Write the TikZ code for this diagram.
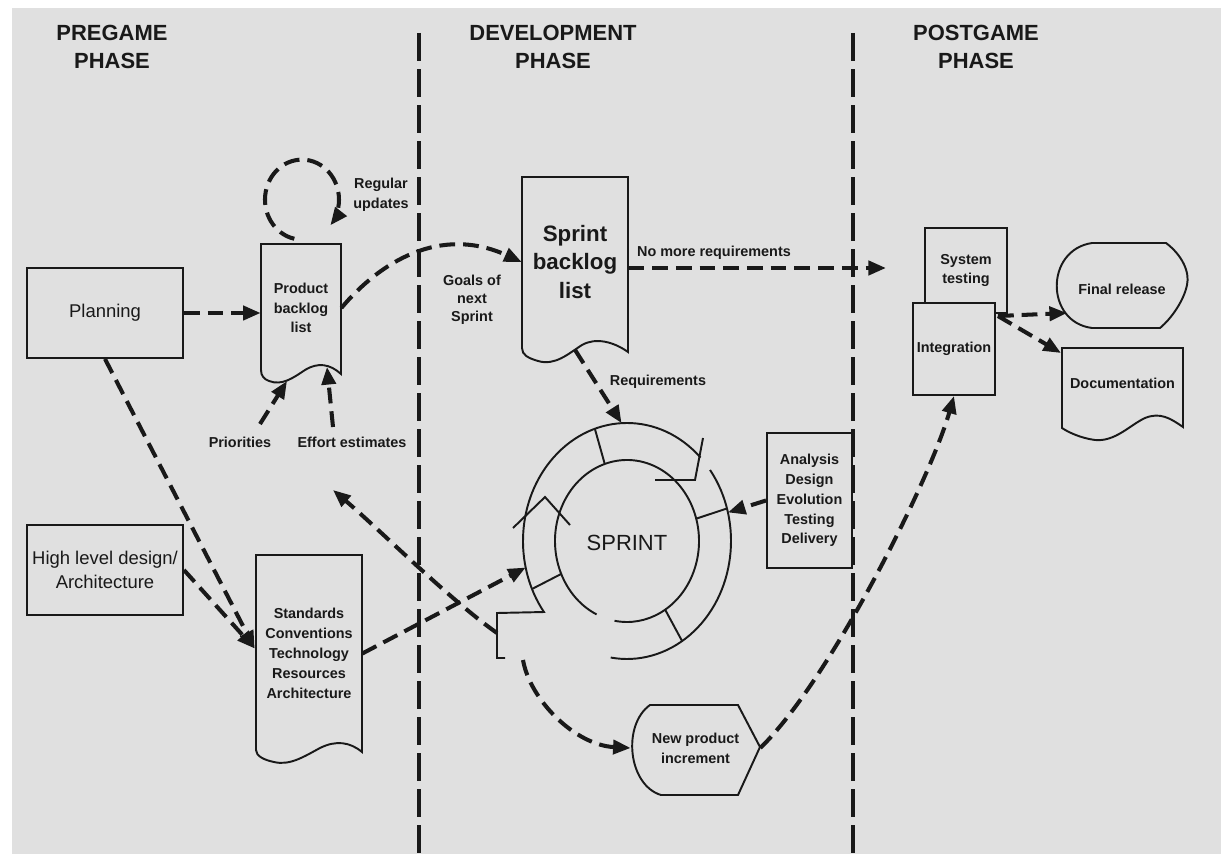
\documentclass[tikz,border=0pt]{standalone}
\usepackage{fontspec}
\setmainfont{Liberation Sans}
\usetikzlibrary{arrows.meta,calc}
\definecolor{bg}{RGB}{224,224,224}
\definecolor{ink}{RGB}{25,25,25}
\tikzset{
  box/.style={draw=ink, line width=1.1pt, fill=bg, inner sep=0pt, text=ink},
  outline/.style={draw=ink, line width=1.1pt, fill=bg},
  conn/.style={draw=ink, line width=2.3pt, dash pattern=on 9pt off 4.5pt, -{Triangle[length=10pt,width=8pt]}},
  phaseline/.style={draw=ink, line width=2pt, dash pattern=on 16pt off 4.5pt},
  ring/.style={draw=ink, line width=1.1pt},
  head/.style={font=\bfseries\fontsize{12.5}{16.4}\selectfont, align=center, text=ink},
  lbl/.style={font=\bfseries\fontsize{8.2}{11.3}\selectfont, align=center, inner sep=1pt, text=ink},
  midtext/.style={font=\fontsize{10.5}{14}\selectfont, align=center, text=ink},
  doc/.style={inner sep=0pt, align=center},
}
\begin{document}
\begin{tikzpicture}[x=0.02cm,y=-0.02cm]
\useasboundingbox (0,0) rectangle (1221,854);
\fill[white] (0,0) rectangle (1221,854);
\fill[bg] (12,8) rectangle (1221,854);

% phase headings
\node[head] (h1) at (112,47) {PREGAME\\PHASE};
\node[head] (h2) at (553,47) {DEVELOPMENT\\PHASE};
\node[head] (h3) at (976,47) {POSTGAME\\PHASE};

% phase separators
\coordinate (p1t) at (419,33); \coordinate (p1b) at (419,854);
\coordinate (p2t) at (853,33); \coordinate (p2b) at (853,854);
\draw[phaseline] (p1t) -- (p1b);
\draw[phaseline] (p2t) -- (p2b);

% pregame boxes
\node[box, midtext, minimum width=3.12cm, minimum height=1.8cm] (plan) at (105,313) {Planning};
\node[box, midtext, minimum width=3.12cm, minimum height=1.8cm] (hld) at (105,570) {High level design/\\Architecture};

% product backlog document
\draw[outline] (261,244) -- (341,244) -- (341,374) .. controls (330,364) and (318,362) .. (305,370)
  .. controls (293,378) and (282,386) .. (269,381) .. controls (264,379) and (261,376) .. (261,370) -- cycle;
\node[doc, lbl, minimum width=1.6cm, minimum height=2.56cm] (pb) at (301,308) {Product\\backlog\\list};

% standards document
\draw[outline] (256,555) -- (362,555) -- (362,752) .. controls (350,742) and (336,740) .. (320,748)
  .. controls (305,756) and (290,766) .. (274,762) .. controls (264,760) and (256,756) .. (256,750) -- cycle;
\node[doc, lbl, minimum width=2.12cm, minimum height=3.94cm] (st) at (309,653.5) {Standards\\Conventions\\Technology\\Resources\\Architecture};

% sprint backlog document
\draw[outline] (522,177) -- (628,177) -- (628,352) .. controls (614,342) and (596,337) .. (582,345)
  .. controls (568,354) and (555,366) .. (538,361) .. controls (528,358) and (522,355) .. (522,348) -- cycle;
\node[doc, font=\bfseries\fontsize{12.7}{16.4}\selectfont, text=ink, minimum width=2.12cm, minimum height=3.5cm] (sb) at (575,262) {Sprint\\backlog\\list};

% analysis box
\node[box, lbl, minimum width=1.7cm, minimum height=2.7cm] (ana) at (809.5,500.5) {Analysis\\Design\\Evolution\\Testing\\Delivery};

% sprint ring
\coordinate (C) at (627,541);
\draw[ring] ($(C)+(-45:104 and 118)$) arc[start angle=-45, end angle=-217, x radius=104, y radius=118]
  -- (497,613) -- (497,658) -- (505,658);
\draw[ring] ($(C)+(-37:104 and 118)$) arc[start angle=-37, end angle=99, x radius=104, y radius=118];
\draw[ring] ($(C)+(115:72 and 81)$) arc[start angle=115, end angle=460, x radius=72, y radius=81];
\draw[ring] ($(C)+(-108:104 and 118)$) -- ($(C)+(-108:72 and 81)$);
\draw[ring] ($(C)+(-16:104 and 118)$) -- ($(C)+(-16:72 and 81)$);
\draw[ring] ($(C)+(156:104 and 118)$) -- ($(C)+(156:72 and 81)$);
\draw[ring] ($(C)+(58:104 and 118)$) -- ($(C)+(58:72 and 81)$);
\draw[ring] (513,528) -- (545,497) -- (570,525);
\draw[ring] (703,438) -- (695,480) -- (655,480);
\node[font=\fontsize{12.5}{15}\selectfont, text=ink] (sprint) at (627,543) {SPRINT};

% new product increment
\draw[outline] (650,705) -- (738,705) -- (760,747) -- (738,795) -- (661,795)
  .. controls (628,785) and (622,725) .. (650,705) -- cycle;
\node[doc, lbl, minimum width=2.58cm, minimum height=1.8cm] (npi) at (695.5,748) {New product\\increment};

% postgame
\node[box, lbl, minimum width=1.64cm, minimum height=1.7cm] (systest) at (966,270.5) {System\\testing};
\node[box, lbl, minimum width=1.64cm, minimum height=1.84cm] (int) at (954,349) {Integration};

\draw[outline] (1092,243) -- (1166,243) .. controls (1182,255) and (1190,272) .. (1187,285)
  .. controls (1184,300) and (1172,318) .. (1160,328) -- (1092,328)
  .. controls (1045,322) and (1045,250) .. (1092,243) -- cycle;
\node[doc, lbl, minimum width=2.58cm, minimum height=1.7cm] (fr) at (1122,289) {Final release};

\draw[outline] (1062,348) -- (1183,348) -- (1183,427) .. controls (1170,418) and (1160,412) .. (1145,418)
  .. controls (1130,425) and (1115,442) .. (1095,440) .. controls (1080,438) and (1068,432) .. (1062,428) -- cycle;
\node[doc, lbl, minimum width=2.42cm, minimum height=1.5cm] (docu) at (1122.5,383) {Documentation};

% labels
\node[lbl] (regup) at (381,195) {Regular\\updates};
\node[lbl] (prio) at (240,442) {Priorities};
\node[lbl] (eff) at (352,442) {Effort estimates};
\node[lbl, font=\bfseries\fontsize{8.2}{10.2}\selectfont] (goals) at (472,300) {Goals of\\next\\Sprint};
\node[lbl] (nmr) at (714,253) {No more requirements};
\node[lbl] (req) at (658,382) {Requirements};

% connector coordinates
\coordinate (stin) at ($(st.west)+(-1,-5)$);
\coordinate (pbPrio) at (287,381);
\coordinate (prioStart) at (260,424);
\coordinate (pbEff) at (327,367);
\coordinate (effStart) at (333,427);
\coordinate (nmrEnd) at (886,268);
\coordinate (ringTop) at ($(C)+(-93:104 and 118)$);
\coordinate (ringRight) at ($(C)+(-14:104 and 118)$);
\coordinate (ringLeft) at ($(C)+(167:104 and 118)$);
\coordinate (notchC) at (497,633);
\coordinate (effBack) at (333,490);
\coordinate (notchB) at (523,660);
\coordinate (intOut) at ($(int.north east)+(2,14)$);
\coordinate (frIn) at (1067,313);
\coordinate (docIn) at (1061,353);

% connectors
\draw[conn] ($(pb.north)+(-6.7,-4.9)$) arc[start angle=102, end angle=400, x radius=37, y radius=40];
\draw[conn] (plan.east) -- (plan.east -| pb.west);
\draw[conn] (plan.south) -- (stin);
\draw[conn] (hld.east) -- (stin);
\draw[conn] (prioStart) -- (pbPrio);
\draw[conn] (effStart) -- (pbEff);
\draw[conn] (pb.east) .. controls (380,262) and (440,225) .. (sb.west);
\draw[conn] (sb.east |- nmrEnd) -- (nmrEnd);
\draw[conn] (sb.south) -- (ringTop);
\draw[conn] (ana.west) -- (ringRight);
\draw[conn] (st.east) -- (ringLeft);
\draw[conn] (notchC) .. controls (450,600) and (380,530) .. (effBack);
\draw[conn] (notchB) .. controls (530,700) and (575,745) .. (npi.west);
\draw[conn] (npi.east) .. controls (830,680) and (930,480) .. (int.south);
\draw[conn] (intOut) -- (frIn);
\draw[conn] (intOut) -- (docIn);
\end{tikzpicture}
\end{document}
